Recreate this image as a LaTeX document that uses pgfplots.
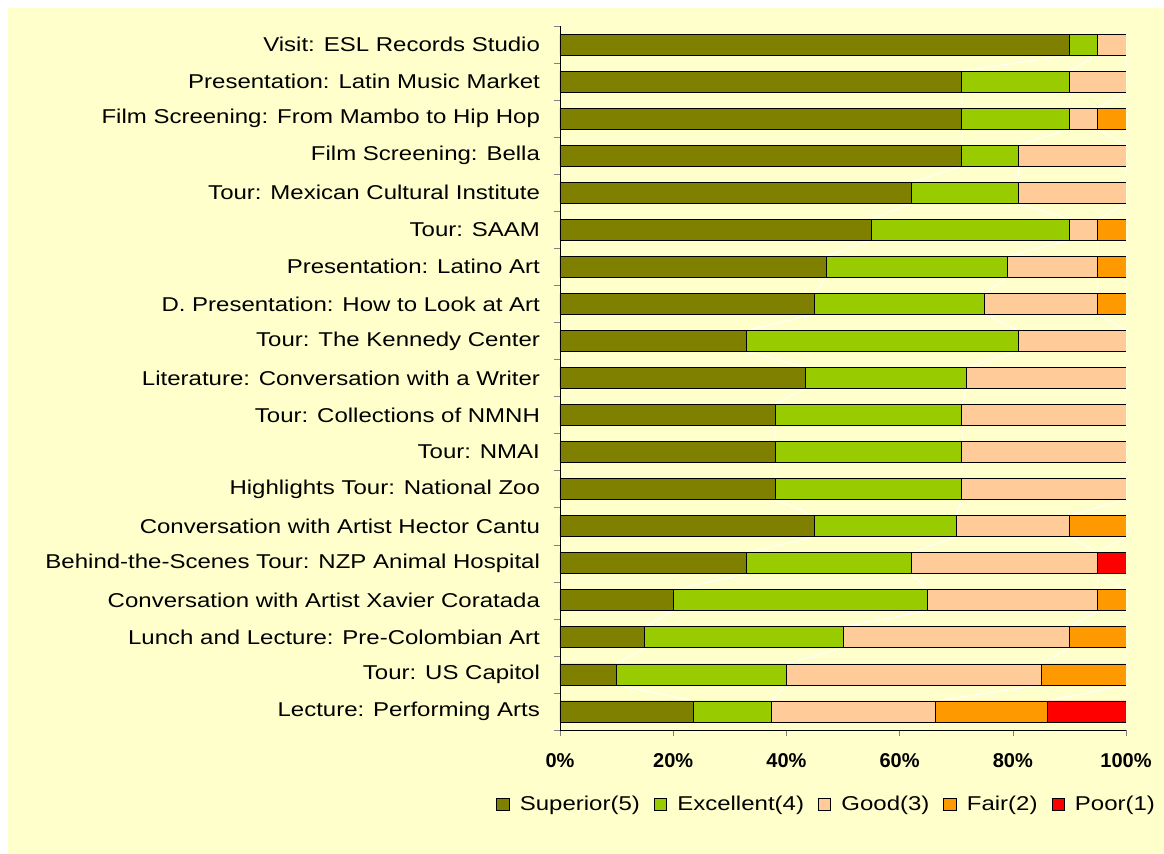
\documentclass[border=0pt]{standalone}
\usepackage{pgfplots}
\pgfplotsset{compat=1.18}
\usepackage{pgfplotstable}
\usepackage{fontspec}
\setmainfont{Liberation Sans}
\newfontfamily\widefont[FakeStretch=1.2]{Liberation Sans}
\definecolor{bgyellow}{HTML}{FFFFCC}
\definecolor{cSup}{HTML}{808000}
\definecolor{cExc}{HTML}{99CC00}
\definecolor{cGood}{HTML}{FFCC99}
\definecolor{cFair}{HTML}{FF9900}
\definecolor{cPoor}{HTML}{FF0000}

% rows top to bottom, y=18 is the top bar
\pgfplotstableread{
y  sup  exc  good fair poor
18 90   5    5    0    0
17 71   19   10   0    0
16 71   19   5    5    0
15 71   10   19   0    0
14 62   19   19   0    0
13 55   35   5    5    0
12 47   32   16   5    0
11 45   30   20   5    0
10 33   48   19   0    0
9  43.4 28.4 28.2 0    0
8  38   33   29   0    0
7  38   33   29   0    0
6  38   33   29   0    0
5  45   25   20   10   0
4  33   29   33   0    5
3  20   45   30   5    0
2  15   35   40   10   0
1  10   30   45   15   0
0  23.6 13.8 29.0 19.7 13.9
}\ratings

% series lines: running totals at the top and bottom edge of each bar
\pgfplotstableread{
yy      b1   b2   b3   b4
18.283  90   95   100  100
17.717  90   95   100  100
17.283  71   90   100  100
16.717  71   90   100  100
16.283  71   90   95   100
15.717  71   90   95   100
15.283  71   81   100  100
14.717  71   81   100  100
14.283  62   81   100  100
13.717  62   81   100  100
13.283  55   90   95   100
12.717  55   90   95   100
12.283  47   79   95   100
11.717  47   79   95   100
11.283  45   75   95   100
10.717  45   75   95   100
10.283  33   81   100  100
9.717   33   81   100  100
9.283   43.4 71.8 100  100
8.717   43.4 71.8 100  100
8.283   38   71   100  100
7.717   38   71   100  100
7.283   38   71   100  100
6.717   38   71   100  100
6.283   38   71   100  100
5.717   38   71   100  100
5.283   45   70   90   100
4.717   45   70   90   100
4.283   33   62   95   95
3.717   33   62   95   95
3.283   20   65   95   100
2.717   20   65   95   100
2.283   15   50   90   100
1.717   15   50   90   100
1.283   10   40   85   100
0.717   10   40   85   100
0.283   23.6 37.4 66.4 86.1
-0.283  23.6 37.4 66.4 86.1
}\serieslines

\begin{document}
\begin{tikzpicture}
\fill[white] (0,0) rectangle (582pt,427pt);
\fill[bgyellow] (4pt,0) rectangle (582pt,423pt);
\pgfplotsset{chartframe/.style={
    at={(280pt,62pt)}, anchor=south west,
    scale only axis, width=283pt, height=352pt,
    xmin=0, xmax=100, ymin=-0.5, ymax=18.5}}
% white series lines behind the bars
\begin{axis}[chartframe, hide axis]
\addplot[white, line width=0.5pt] table[x=b1, y=yy] {\serieslines};
\addplot[white, line width=0.5pt] table[x=b2, y=yy] {\serieslines};
\addplot[white, line width=0.5pt] table[x=b3, y=yy] {\serieslines};
\addplot[white, line width=0.5pt] table[x=b4, y=yy] {\serieslines};
\addplot[white, line width=0.5pt] coordinates {(100,18.283) (100,-0.283)};
\end{axis}
\begin{axis}[
    chartframe,
    xbar stacked, bar width=10.5pt,
    axis lines*=left,
    tick align=outside, major tick length=3pt, minor tick length=3pt,
    xtick={0,20,40,60,80,100},
    xticklabels={0\%,20\%,40\%,60\%,80\%,100\%},
    xticklabel style={font=\bfseries\fontsize{10}{12}\selectfont, yshift=-5pt},
    ytick={0,...,18},
    yticklabels={Lecture: Performing Arts, Tour: US Capitol,
      Lunch and Lecture: Pre-Colombian Art, Conversation with Artist Xavier Coratada,
      Behind-the-Scenes Tour: NZP Animal Hospital, Conversation with Artist Hector Cantu,
      Highlights Tour: National Zoo, Tour: NMAI, Tour: Collections of NMNH,
      Literature: Conversation with a Writer, Tour: The Kennedy Center,
      D. Presentation: How to Look at Art, Presentation: Latino Art, Tour: SAAM,
      Tour: Mexican Cultural Institute, Film Screening: Bella,
      Film Screening: From Mambo to Hip Hop, Presentation: Latin Music Market,
      Visit: ESL Records Studio},
    yticklabel style={font=\widefont\fontsize{10}{12}\selectfont, xshift=-3.5pt},
    major y tick style={draw=none},
    minor ytick={-0.5,0.5,...,18.5},
    every bar/.append style={draw=black, line width=0.65pt},
    legend columns=5,
    legend style={at={(0.473,-0.1065)}, anchor=center, draw=none, fill=none,
      font=\widefont\fontsize{10}{12}\selectfont,
      /tikz/every odd column/.append style={column sep=3pt},
      /tikz/every even column/.append style={column sep=5pt}},
    legend image code/.code={\draw[#1, draw=black, line width=0.5pt] (0pt,-3pt) rectangle (6.2pt,3.2pt);},
]
\addplot[fill=cSup] table[x=sup, y=y] {\ratings};
\addlegendentry{Superior(5)}
\addplot[fill=cExc] table[x=exc, y=y] {\ratings};
\addlegendentry{Excellent(4)}
\addplot[fill=cGood] table[x=good, y=y] {\ratings};
\addlegendentry{Good(3)}
\addplot[fill=cFair] table[x=fair, y=y] {\ratings};
\addlegendentry{Fair(2)}
\addplot[fill=cPoor] table[x=poor, y=y] {\ratings};
\addlegendentry{Poor(1)}
\end{axis}
\pgfresetboundingbox
\path[use as bounding box] (0,0) rectangle (582pt,427pt);
\end{tikzpicture}
\end{document}
